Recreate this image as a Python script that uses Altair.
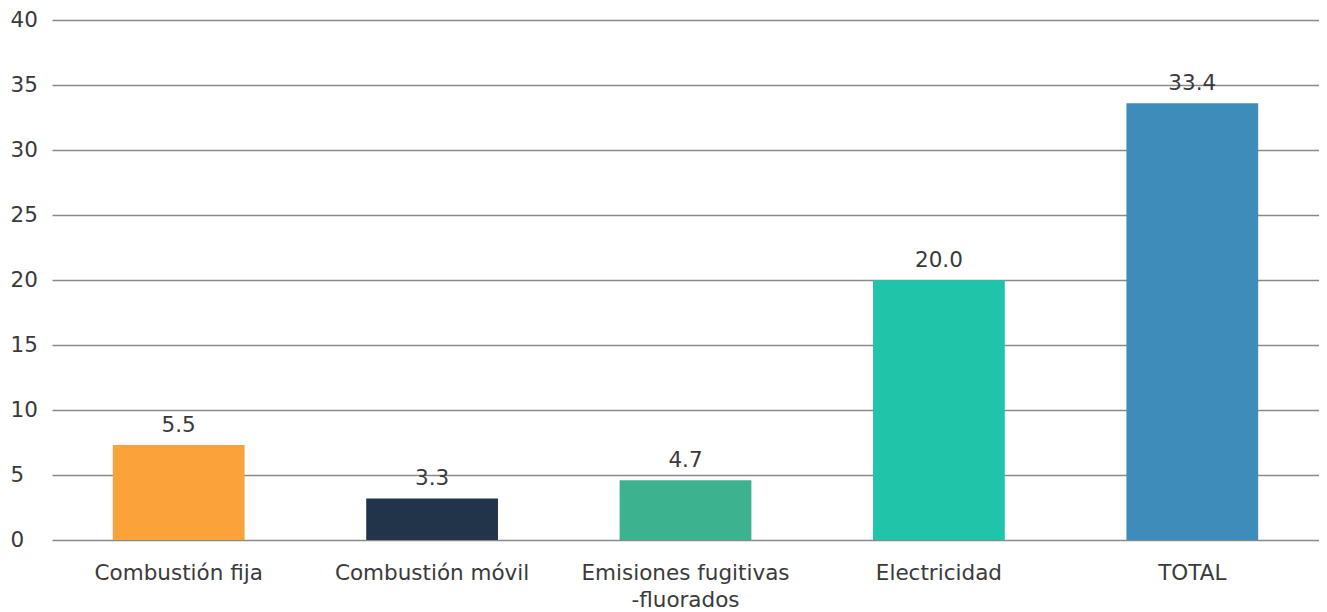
import altair as alt
import pandas as pd

categories = ["Combustión fija", "Combustión móvil", "Emisiones fugitivas|-fluorados", "Electricidad", "TOTAL"]
bar_values = [7.3, 3.2, 4.6, 20.0, 33.6]
value_labels = ["5.5", "3.3", "4.7", "20.0", "33.4"]
colors = ["#FBA23B", "#22344A", "#3CB28E", "#20C4A9", "#3D8CBA"]
y_ticks = [0, 5, 10, 15, 20, 25, 30, 35, 40]

df = pd.DataFrame({"cat": categories, "val": bar_values, "lab": value_labels})

FONT = "DejaVu Sans"
TXT = "#3a3a3a"
FS = 21.5

x_enc = alt.X("cat:N", sort=None, title=None,
              scale=alt.Scale(paddingInner=0.48, paddingOuter=0.24),
              axis=alt.Axis(labelAngle=0, labelFontSize=FS, labelFont=FONT, labelColor=TXT,
                            labelPadding=22, ticks=False, domain=False, labelLimit=0,
                            labelExpr="split(datum.label, '|')", labelLineHeight=27,
                            labelBaseline="top"))
y_enc = alt.Y("val:Q", title=None,
              scale=alt.Scale(domain=[0, 40], nice=False),
              axis=alt.Axis(values=y_ticks, labelFontSize=FS, labelFont=FONT, labelColor=TXT,
                            labelAlign="left", labelPadding=42, ticks=False, domain=False,
                            grid=True, gridColor="#8a8a8a", gridWidth=1.5))

bars = alt.Chart(df).mark_bar().encode(
    x=x_enc, y=y_enc,
    color=alt.Color("cat:N", sort=None, scale=alt.Scale(domain=categories, range=colors), legend=None),
)
texts = alt.Chart(df).mark_text(dy=-8, baseline="bottom", fontSize=FS, font=FONT, color=TXT).encode(
    x=alt.X("cat:N", sort=None), y="val:Q", text="lab:N"
)

chart = (bars + texts).properties(
    width=1267, height=520,
    autosize=alt.AutoSizeParams(type="none"),
    padding={"left": 44, "top": 12, "right": 0, "bottom": 70},
).configure_view(stroke=None)

chart.save("out.html", embed_options={"renderer": "svg", "actions": False})
